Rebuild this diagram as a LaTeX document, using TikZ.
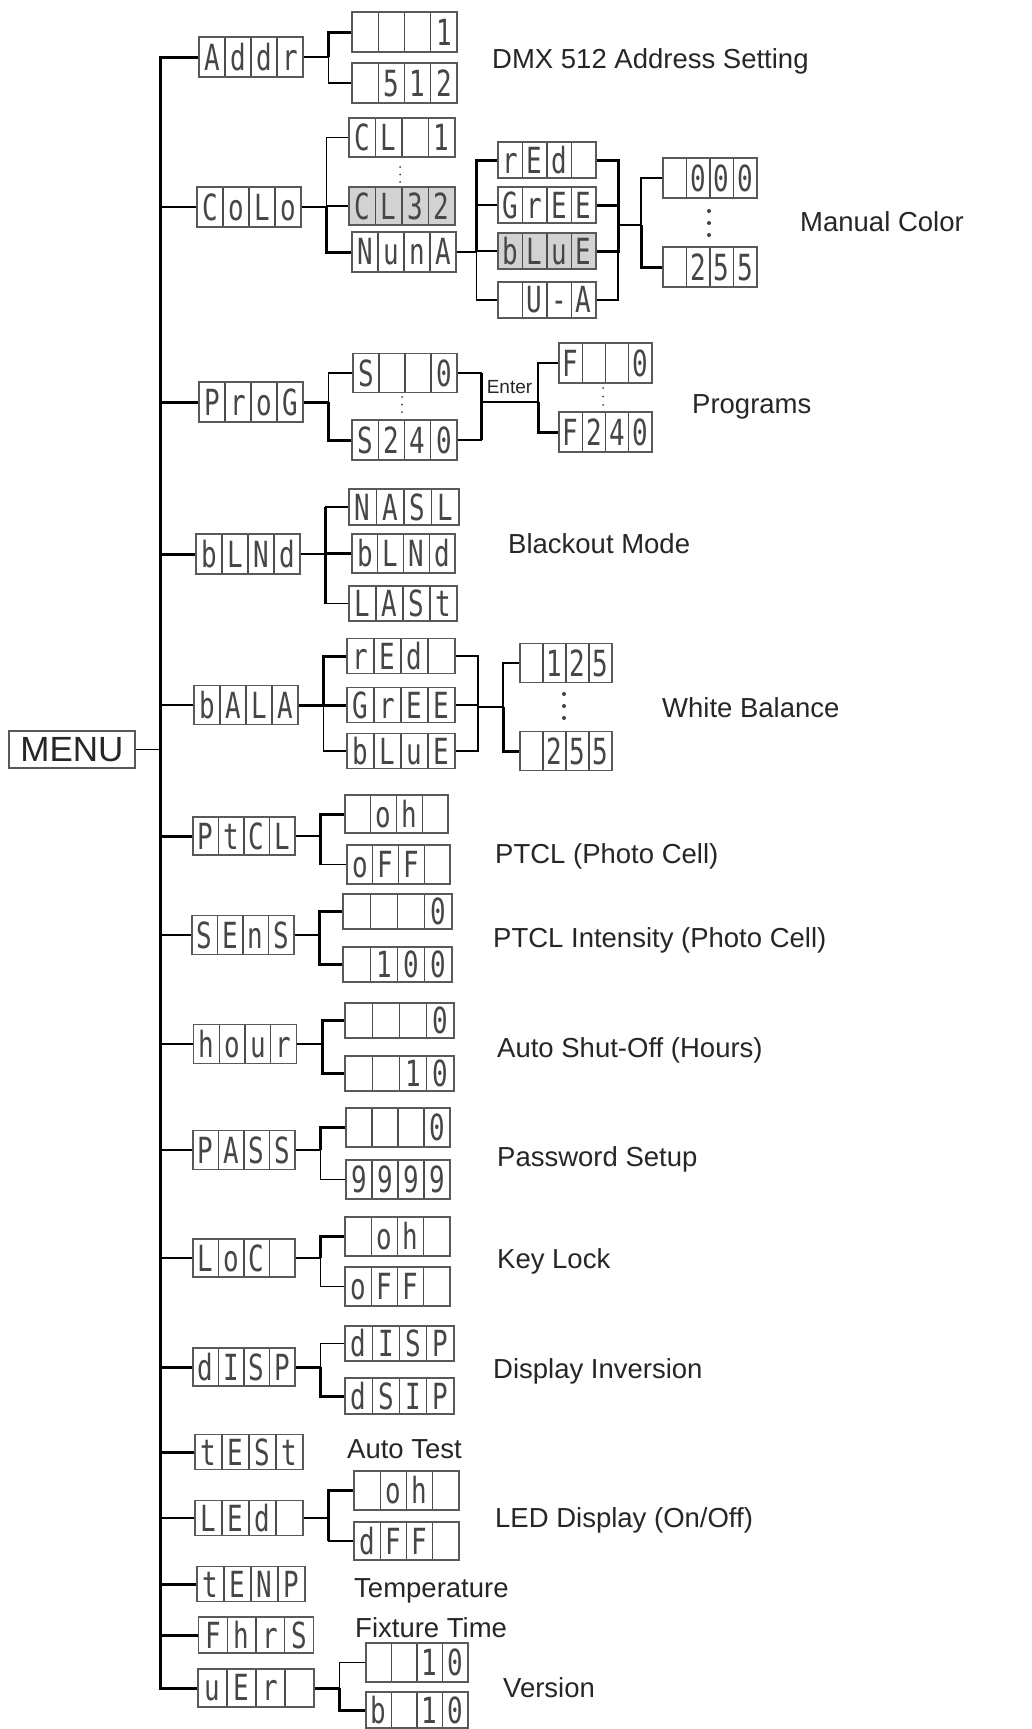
\documentclass[tikz,border=0pt]{standalone}
\usepackage{fontspec}
\setmainfont{Liberation Sans}
\newfontfamily\segfont{DejaVu Sans Mono}
\usepackage{graphicx}
\usetikzlibrary{calc}

\newlength\cellw
\newcommand\segchar[1]{\makebox[\cellw]{\scalebox{0.72}[1]{#1}}}
\newcommand\seg[4]{\segchar{#1}\segchar{#2}\segchar{#3}\segchar{#4}}

\tikzset{
  lcd/.style 2 args={draw=gray!70!black, line width=1.3, minimum width=#1, minimum height=#2,
    inner sep=0, text=gray!55!black, font=\segfont\fontsize{36}{36}\selectfont,
    execute at begin node={\setlength\cellw{#1pt}\divide\cellw by 4},
    path picture={\foreach \k in {1,2,3}
      \draw[gray!60!black, line width=1.1]
        ($(path picture bounding box.north west)!\k/4!(path picture bounding box.north east)$) --
        ($(path picture bounding box.south west)!\k/4!(path picture bounding box.south east)$);}},
  dark/.style={fill=gray!35},
  menubox/.style={draw=gray!70!black, line width=1.3, minimum width=126, minimum height=37,
    inner sep=0, text=black!85, font=\fontsize{35}{35}\selectfont},
  caption/.style={anchor=base west, inner sep=0, text=black!85, font=\fontsize{27.5}{30}\selectfont},
  ln/.style={line width=1.3},
  tk/.style={line width=3},
}

\begin{document}
\begin{tikzpicture}[x=1pt,y=-1pt]
\useasboundingbox (0,0) rectangle (1032,1729);
\clip (0,0) rectangle (1032,1729);

% main menu and first level
\node[menubox] (menu) at (72,749.5) {MENU};
\node[lcd={104}{40}] (addr) at (251,57) {\seg{A}{d}{d}{r}};
\node[lcd={104}{40}] (colo) at (249,207) {\seg{C}{o}{L}{o}};
\node[lcd={104}{40}] (prog) at (251,402) {\seg{P}{r}{o}{G}};
\node[lcd={104}{40}] (blnd) at (248,554) {\seg{b}{L}{N}{d}};
\node[lcd={104}{39}] (bala) at (246,705) {\seg{b}{A}{L}{A}};
\node[lcd={102}{38}] (ptcl) at (244,836) {\seg{P}{t}{C}{L}};
\node[lcd={102}{39}] (sens) at (243,935) {\seg{S}{E}{n}{S}};
\node[lcd={103}{39}] (hour) at (245,1044) {\seg{h}{o}{u}{r}};
\node[lcd={102}{39}] (pass) at (244,1150) {\seg{P}{A}{S}{S}};
\node[lcd={102}{38}] (loc) at (244,1258) {\seg{L}{o}{C}{}};
\node[lcd={102}{38}] (disp) at (244,1367) {\seg{d}{I}{S}{P}};
\node[lcd={108}{35}] (test) at (249,1452) {\seg{t}{E}{S}{t}};
\node[lcd={108}{35}] (led) at (249,1518) {\seg{L}{E}{d}{}};
\node[lcd={108}{35}] (temp) at (251,1584) {\seg{t}{E}{N}{P}};
\node[lcd={115}{36}] (fhrs) at (256,1635) {\seg{F}{h}{r}{S}};
\node[lcd={116}{38}] (uer) at (256,1688) {\seg{u}{E}{r}{}};

% second level
\node[lcd={105}{40}] (a1) at (404.5,32) {\seg{}{}{}{1}};
\node[lcd={105}{40}] (a2) at (404.5,83) {\seg{}{5}{1}{2}};
\node[lcd={106}{39}] (c1) at (402,137.5) {\seg{C}{L}{}{1}};
\node[lcd={106}{38},dark] (c2) at (402,206) {\seg{C}{L}{3}{2}};
\node[lcd={104}{40}] (c3) at (404,252) {\seg{N}{u}{n}{A}};
\node[lcd={104}{39}] (p1) at (405,373) {\seg{S}{}{}{0}};
\node[lcd={105}{40}] (p2) at (404.5,440) {\seg{S}{2}{4}{0}};
\node[lcd={110}{36}] (bl1) at (404,507) {\seg{N}{A}{S}{L}};
\node[lcd={103}{39}] (bl2) at (403.5,553.5) {\seg{b}{L}{N}{d}};
\node[lcd={108}{35}] (bl3) at (403,603.5) {\seg{L}{A}{S}{t}};
\node[lcd={108}{35}] (wr) at (401,656) {\seg{r}{E}{d}{}};
\node[lcd={108}{35}] (wg) at (401,705) {\seg{G}{r}{E}{E}};
\node[lcd={108}{35}] (wb) at (401,751) {\seg{b}{L}{u}{E}};
\node[lcd={103}{38}] (pt1) at (396.5,814) {\seg{}{o}{h}{}};
\node[lcd={103}{39}] (pt2) at (398.5,864.5) {\seg{o}{F}{F}{}};
\node[lcd={109}{35}] (se1) at (397.5,911.5) {\seg{}{}{}{0}};
\node[lcd={109}{35}] (se2) at (397.5,964.5) {\seg{}{1}{0}{0}};
\node[lcd={109}{35}] (ho1) at (399.5,1020.5) {\seg{}{}{}{0}};
\node[lcd={109}{35}] (ho2) at (399.5,1073.5) {\seg{}{}{1}{0}};
\node[lcd={104}{39}] (pa1) at (398,1127.5) {\seg{}{}{}{0}};
\node[lcd={104}{39}] (pa2) at (398,1179.5) {\seg{9}{9}{9}{9}};
\node[lcd={105}{39}] (lo1) at (397.5,1236.5) {\seg{}{o}{h}{}};
\node[lcd={105}{39}] (lo2) at (397.5,1286.5) {\seg{o}{F}{F}{}};
\node[lcd={109}{35}] (di1) at (399.5,1343.5) {\seg{d}{I}{S}{P}};
\node[lcd={109}{36}] (di2) at (399.5,1396) {\seg{d}{S}{I}{P}};
\node[lcd={105}{39}] (le1) at (406.5,1490.5) {\seg{}{o}{h}{}};
\node[lcd={105}{38}] (le2) at (406.5,1541) {\seg{d}{F}{F}{}};
\node[lcd={102}{39}] (ue1) at (417,1662.5) {\seg{}{}{1}{0}};
\node[lcd={102}{36}] (ue2) at (417,1710) {\seg{b}{}{1}{0}};

% third and fourth level
\node[lcd={98}{36}] (cr) at (547,160) {\seg{r}{E}{d}{}};
\node[lcd={98}{36}] (cg) at (547,205) {\seg{G}{r}{E}{E}};
\node[lcd={98}{36},dark] (cb) at (547,251) {\seg{b}{L}{u}{E}};
\node[lcd={98}{36}] (cu) at (547,300) {\seg{}{U}{-}{A}};
\node[lcd={94}{40}] (cv0) at (710,178) {\seg{}{0}{0}{0}};
\node[lcd={94}{40}] (cv1) at (710,267) {\seg{}{2}{5}{5}};
\node[lcd={93}{40}] (f1) at (605.5,363) {\seg{F}{}{}{0}};
\node[lcd={93}{40}] (f2) at (605.5,432) {\seg{F}{2}{4}{0}};
\node[lcd={92}{39}] (wv0) at (566,663) {\seg{}{1}{2}{5}};
\node[lcd={92}{39}] (wv1) at (566,751) {\seg{}{2}{5}{5}};

% spine
\coordinate (bot) at (160,1688);
\draw[tk] (addr.west) -| (bot) -- (uer.west);
\draw[ln] (menu.east) -- (menu.east -| bot);
\foreach \n in {colo,bala,sens,hour,pass,loc,led} \draw[ln] (\n.west) -- (\n.west -| bot);
\foreach \n in {prog,blnd,ptcl,disp,test,temp,fhrs} \draw[tk] (\n.west) -- (\n.west -| bot);

% forks of the first level
\foreach \n in {addr,colo,prog,blnd,bala,ptcl,sens,hour,pass,loc,disp,led,uer}
  \path (\n.east) ++(25,0) coordinate (f\n);
\foreach \n in {addr,colo,blnd,ptcl,sens,hour,pass,loc,led} \draw[ln] (\n.east) -- (f\n);
\foreach \n in {prog,bala,disp,uer} \draw[tk] (\n.east) -- (f\n);
\foreach \a/\b/\s in {addr/a1/tk, addr/a2/ln, colo/c1/ln, colo/c2/ln, colo/c3/tk,
    prog/p1/ln, prog/p2/tk, blnd/bl1/ln, blnd/bl2/tk, blnd/bl3/ln,
    bala/wr/tk, bala/wg/tk, bala/wb/ln, ptcl/pt1/tk, ptcl/pt2/ln,
    sens/se1/tk, sens/se2/tk, hour/ho1/tk, hour/ho2/tk, pass/pa1/tk, pass/pa2/ln,
    loc/lo1/tk, loc/lo2/ln, disp/di1/ln, disp/di2/tk, led/le1/tk, led/le2/ln,
    uer/ue1/ln, uer/ue2/tk}
  \draw[\s] (f\a) |- (\b.west);
\draw[tk] (bl1.west -| fblnd) -- (bl3.west -| fblnd);
\draw[tk] (pt1.west -| fptcl) -- (pt2.west -| fptcl);
\draw[tk] (le1.west -| fled) -- (le2.west -| fled);

% manual colour
\path (c3.east) ++(20,0) coordinate (fc3);
\draw[ln] (c3.east) -- (fc3);
\foreach \b/\s in {cr/tk, cg/ln, cb/ln, cu/ln} \draw[\s] (fc3) |- (\b.west);
\coordinate (cm) at (618,225);
\coordinate (fcv) at (641,225);
\foreach \b/\s in {cr/tk, cg/tk, cb/tk, cu/ln} \draw[\s] (\b.east) -| (cm);
\draw[ln] (cm) -- (fcv);
\draw[ln] (fcv) |- (cv0.west);
\draw[tk] (fcv) |- (cv1.west);

% programs
\coordinate (pm) at (481,402);
\coordinate (fpf) at (538,402);
\draw[ln] (p1.east) -| (pm);
\draw[ln] (p2.east) -| (pm);
\draw[tk] (p1.east -| pm) -- (p2.east -| pm);
\draw[ln] (pm) -- node[above=8pt, inner sep=0, font=\fontsize{19}{20}\selectfont, text=black!85] (enter) {Enter} (fpf);
\draw[ln] (fpf) |- (f1.west);
\draw[tk] (fpf) |- (f2.west);

% white balance
\coordinate (wm) at (478,707);
\coordinate (fwv) at (503,707);
\foreach \b in {wr,wg,wb} \draw[ln] (\b.east) -| (wm);
\draw[ln] (wm) -- (fwv);
\draw[ln] (fwv) |- (wv0.west);
\draw[tk] (fwv) |- (wv1.west);

% dots
\foreach \x/\ya/\yb/\r in {400/167/182/1, 402/397/412/1, 603/388/405/1, 709/211/235/2, 564/694/718/2}
  \foreach \t in {0,0.5,1} \fill[gray!50!black] (\x,{\ya+\t*(\yb-\ya)}) circle[radius=\r pt];

% captions
\node[caption] (dmx) at (492,68) {DMX 512 Address Setting};
\node[caption] (manual) at (800,231) {Manual Color};
\node[caption] (programs) at (692,413) {Programs};
\node[caption] (blackout) at (508,553) {Blackout Mode};
\node[caption] (white) at (662,717) {White Balance};
\node[caption] (photo) at (495,863) {PTCL (Photo Cell)};
\node[caption] (intensity) at (493,947) {PTCL Intensity (Photo Cell)};
\node[caption] (shutoff) at (497,1057) {Auto Shut-Off (Hours)};
\node[caption] (password) at (497,1166) {Password Setup};
\node[caption] (keylock) at (497,1268) {Key Lock};
\node[caption] (inversion) at (493,1378) {Display Inversion};
\node[caption] (autotest) at (347,1458) {Auto Test};
\node[caption] (ledshow) at (495,1527) {LED Display (On/Off)};
\node[caption] (temperature) at (354,1597) {Temperature};
\node[caption] (fixture) at (355,1637) {Fixture Time};
\node[caption] (version) at (503,1697) {Version};
\end{tikzpicture}
\end{document}
